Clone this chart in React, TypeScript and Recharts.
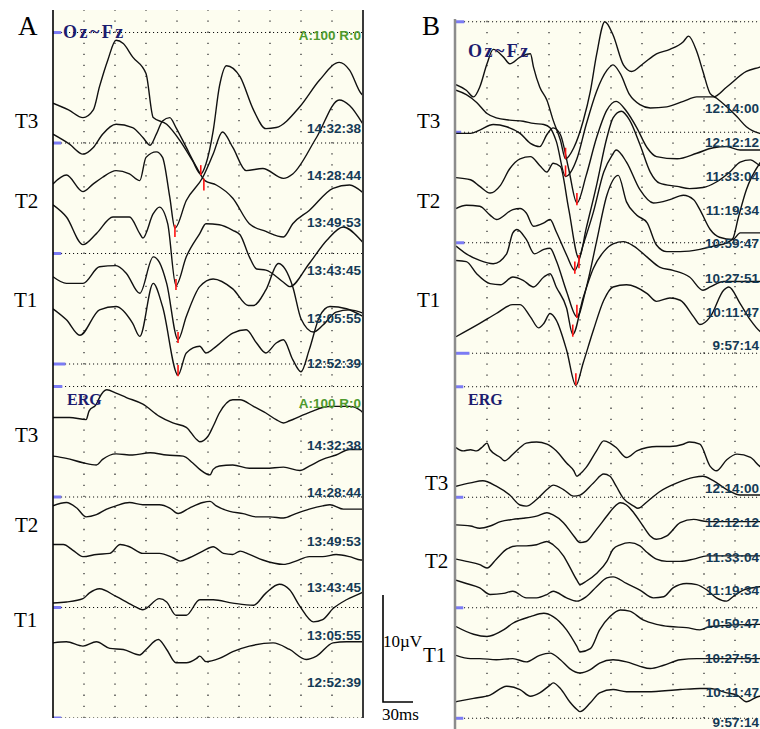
import React from "react";
import { LineChart, Line, XAxis, YAxis, ReferenceLine } from "recharts";

type Pt = [number, number]; // [time ms, amplitude µV]
type Mark = [number, number, number]; // [time ms, low µV, high µV] of red peak marker

// ---------------- Panel A : VEP (Oz~Fz) ----------------
const vepA_143238: Pt[] = [[0,23.6],[15,23.0],[29,22.3],[39,23.0],[45,25.1],[53,27.5],[61,29.3],[68,29.0],[77,27.8],[90,26.3],[97,22.3],[110,21.7],[123,20.2],[135,18.4],[143,17.2],[148,18.1],[155,21.1],[161,25.1],[168,27.0],[181,26.0],[194,23.0],[206,21.3],[216,21.4],[239,23.3],[258,25.7],[277,27.3],[287,26.6],[298,24.5],[300,24.3]];
const vepA_142844: Pt[] = [[0,20.8],[16,19.9],[29,19.0],[39,19.6],[48,20.8],[61,21.7],[77,21.4],[87,20.5],[94,19.8],[100,20.8],[106,22.0],[113,22.3],[119,21.4],[129,19.6],[139,17.8],[147,16.6],[158,16.2],[174,15.0],[190,12.7],[206,12.0],[223,11.5],[232,12.7],[248,13.9],[271,15.9],[287,16.2],[300,15.5]];
const vepA_134953: Pt[] = [[0,16.3],[13,17.1],[29,15.6],[39,16.3],[48,16.9],[61,17.5],[74,17.2],[84,16.6],[90,18.7],[100,19.2],[106,18.7],[113,15.1],[118,12.3],[129,14.8],[145,16.9],[155,19.0],[164,21.0],[174,19.6],[187,17.5],[203,17.7],[223,16.8],[232,17.2],[255,20.5],[277,23.9],[287,23.4],[300,21.7]];
const vepA_134345: Pt[] = [[0,14.4],[13,13.3],[29,10.8],[42,11.8],[58,13.3],[74,13.3],[84,11.8],[87,11.4],[97,13.6],[103,14.2],[111,12.7],[119,7.1],[129,9.7],[142,11.8],[148,12.7],[161,12.6],[174,12.1],[181,11.7],[190,9.7],[197,8.6],[206,8.5],[223,7.4],[229,7.0],[248,9.1],[265,11.2],[281,12.4],[298,11.2],[300,11.0]];
const vepA_130555: Pt[] = [[0,7.9],[13,7.3],[29,7.3],[45,8.8],[61,8.9],[71,8.2],[84,6.4],[97,9.7],[103,9.2],[110,7.3],[121,2.2],[129,4.3],[142,7.0],[155,7.7],[174,6.8],[189,5.3],[194,5.3],[206,6.7],[218,9.1],[232,7.0],[240,4.1],[252,2.9],[261,3.5],[274,4.7],[287,4.9],[300,4.6]];
const vepA_125239: Pt[] = [[0,5.0],[13,4.0],[26,2.6],[45,4.9],[61,5.2],[77,3.7],[84,2.5],[97,7.3],[106,5.2],[121,-1.0],[129,1.0],[142,1.6],[148,1.0],[158,1.6],[174,2.8],[187,3.1],[197,1.9],[206,1.0],[216,1.9],[223,2.2],[232,0.4],[240,-0.7],[248,1.3],[258,4.3],[268,5.2],[284,5.0],[300,4.3]];
const vepMarksA: Mark[] = [[143,17.1,18.0],[146,15.7,16.8],[118,11.5,12.6],[119,6.7,7.7],[121,1.9,2.9],[121,-1.1,-0.1]];
const timesA = ["14:32:38", "14:28:44", "13:49:53", "13:43:45", "13:05:55", "12:52:39"];

// ---------------- Panel A : ERG ----------------
const ergA_143238: Pt[] = [[0,27.2],[16,27.2],[32,27.0],[35,27.8],[42,28.4],[45,29.0],[52,29.7],[61,29.4],[71,29.0],[87,28.4],[103,27.3],[116,26.7],[129,26.3],[139,25.2],[142,25.0],[150,25.5],[155,26.4],[161,27.6],[174,28.8],[181,28.8],[194,28.2],[206,27.6],[216,27.0],[223,26.7],[229,26.9],[239,27.3],[252,27.8],[261,28.1],[271,28.2],[287,28.2],[298,27.8],[300,27.6]];
const ergA_142844: Pt[] = [[0,23.7],[13,23.5],[29,23.1],[42,22.9],[48,23.4],[61,23.9],[77,23.8],[94,24.0],[110,23.8],[126,23.7],[135,23.1],[142,22.5],[152,22.0],[155,22.5],[161,22.8],[174,22.9],[190,22.6],[206,22.6],[223,22.7],[239,22.4],[248,22.8],[261,23.4],[274,23.8],[287,24.3],[298,24.3],[300,24.4]];
const ergA_134953: Pt[] = [[0,19.2],[13,19.5],[23,19.0],[32,18.2],[42,18.4],[52,18.9],[61,19.2],[74,19.5],[87,19.3],[103,19.3],[113,19.0],[121,18.5],[132,19.0],[145,19.5],[152,19.6],[158,19.2],[171,18.7],[184,18.5],[197,18.2],[210,18.2],[223,18.1],[235,18.5],[248,18.9],[261,19.2],[268,19.3],[281,18.9],[298,18.9],[300,18.9]];
const ergA_134345: Pt[] = [[0,15.7],[10,15.7],[19,15.2],[29,14.6],[42,14.8],[55,14.9],[65,15.7],[74,15.5],[87,14.9],[103,14.9],[116,14.5],[123,14.2],[132,14.5],[145,15.1],[155,15.5],[165,14.9],[174,14.8],[181,15.1],[190,14.8],[203,14.3],[223,13.9],[235,14.2],[248,14.6],[261,14.6],[274,14.8],[287,14.6],[298,14.3],[300,14.3]];
const ergA_130555: Pt[] = [[0,10.4],[13,10.5],[29,10.8],[35,11.3],[45,11.7],[61,11.0],[77,10.2],[87,9.8],[103,10.8],[110,10.5],[119,9.3],[129,9.3],[142,10.7],[155,10.7],[174,10.4],[194,10.2],[206,11.3],[219,12.1],[229,11.6],[239,10.1],[252,8.7],[261,8.9],[271,9.9],[284,10.7],[298,11.3],[300,11.4]];
const ergA_125239: Pt[] = [[0,6.8],[13,6.9],[29,6.5],[42,6.9],[55,6.3],[68,6.2],[84,5.7],[90,6.2],[102,7.1],[110,6.2],[119,5.0],[129,5.0],[139,5.4],[142,5.6],[148,5.1],[161,5.4],[174,6.0],[190,6.5],[213,6.8],[229,6.2],[245,5.3],[255,5.6],[271,6.8],[284,6.9],[298,6.9],[300,6.9]];

// ---------------- Panel B : VEP (Oz~Fz) ----------------
const vepB_121400: Pt[] = [[0,24.3],[10,23.8],[17,23.2],[23,24.1],[30,26.2],[36,27.5],[46,26.8],[52,26.2],[62,26.8],[72,27.1],[75,25.9],[81,24.1],[88,22.9],[94,21.1],[101,19.3],[106,17.6],[114,18.6],[123,21.0],[130,23.7],[136,27.0],[144,30.0],[152,28.8],[162,26.1],[170,25.5],[181,26.2],[194,27.1],[207,27.5],[220,28.2],[225,28.7],[233,27.3],[239,25.5],[246,23.5],[252,23.1],[262,22.3],[272,21.4],[281,20.5],[294,19.9],[300,19.8]];
const vepB_121212: Pt[] = [[0,23.8],[10,23.4],[20,22.7],[30,21.7],[39,21.3],[52,21.1],[65,21.0],[75,20.8],[85,20.7],[91,20.4],[97,19.2],[106,16.0],[117,17.6],[126,20.7],[136,23.7],[146,25.6],[152,26.1],[159,25.3],[168,23.4],[178,22.5],[188,22.2],[204,22.3],[220,22.8],[233,23.2],[249,23.2],[262,24.1],[281,25.5],[294,25.9],[300,26.1]];
const vepB_113304: Pt[] = [[0,19.9],[14,19.9],[23,20.2],[36,20.7],[49,20.5],[62,19.9],[72,19.0],[81,18.7],[88,19.8],[94,20.4],[101,19.8],[109,16.7],[117,13.6],[126,16.1],[136,19.5],[146,22.0],[155,22.8],[165,21.9],[175,20.4],[185,18.6],[194,17.8],[214,17.6],[233,18.1],[249,18.6],[262,18.7],[275,18.4],[294,18.4],[300,18.4]];
const vepB_111934: Pt[] = [[0,15.9],[14,15.7],[23,15.1],[33,14.5],[43,15.2],[52,16.7],[62,17.6],[72,17.8],[81,17.0],[88,16.4],[94,17.2],[101,16.9],[109,13.1],[119,8.6],[126,11.3],[136,15.2],[146,19.5],[152,21.3],[160,21.9],[168,21.1],[178,18.9],[188,16.4],[197,15.4],[214,15.1],[226,14.9],[239,15.0],[252,15.5],[265,16.4],[275,17.3],[285,17.5],[294,17.0],[300,16.9]];
const vepB_105947: Pt[] = [[0,13.1],[10,13.4],[23,13.3],[33,12.5],[39,12.1],[55,13.0],[62,13.1],[68,12.7],[75,11.5],[85,11.8],[91,12.1],[97,11.0],[107,8.9],[115,7.5],[123,9.8],[133,12.8],[143,16.4],[151,17.9],[155,18.4],[165,17.3],[178,14.8],[191,13.6],[207,13.9],[220,14.3],[230,13.9],[236,13.0],[246,11.2],[255,10.5],[268,10.3],[275,10.9],[294,10.9],[300,10.9]];
const vepB_102751: Pt[] = [[0,9.7],[10,9.0],[23,8.4],[36,8.1],[49,9.0],[55,10.9],[59,11.2],[68,10.3],[76,9.0],[85,9.4],[91,9.5],[97,8.4],[107,5.6],[117,3.3],[126,5.9],[136,10.1],[146,14.3],[157,16.1],[165,13.7],[175,12.5],[185,11.8],[194,9.8],[204,9.2],[217,9.2],[236,9.4],[249,9.7],[262,10.0],[268,10.4],[273,12.2],[281,14.8],[294,17.2],[300,17.9]];
const vepB_101147: Pt[] = [[0,8.4],[10,8.3],[20,7.2],[33,6.3],[43,6.2],[55,6.9],[65,6.6],[75,6.0],[85,6.9],[91,7.2],[97,6.0],[107,4.1],[113,1.7],[123,5.0],[133,7.7],[143,9.2],[152,9.9],[162,10.1],[172,9.7],[185,8.7],[197,7.8],[210,7.5],[226,6.9],[239,5.7],[246,6.0],[259,6.5],[275,6.5],[294,6.5],[300,6.5]];
const vepB_095714: Pt[] = [[0,1.5],[23,2.7],[39,3.6],[55,4.4],[62,4.4],[72,3.3],[80,2.3],[85,2.7],[91,3.6],[97,3.0],[107,0.3],[116,-2.9],[123,-0.9],[133,2.1],[143,4.8],[152,6.0],[165,6.2],[185,5.4],[194,4.7],[207,5.0],[217,4.8],[230,3.3],[236,2.6],[246,3.3],[259,5.7],[264,6.0],[275,4.5],[285,3.0],[294,2.0],[300,1.7]];
const vepMarksB: Mark[] = [[106,17.6,18.6],[106,16.0,17.0],[117,13.4,14.5],[119,7.7,8.9],[115,7.2,8.3],[117,3.2,4.4],[113,1.5,2.6],[116,-2.9,-1.8]];
const timesB = ["12:14:00", "12:12:12", "11:33:04", "11:19:34", "10:59:47", "10:27:51", "10:11:47", "9:57:14"];

// ---------------- Panel B : ERG ----------------
const ergB_121400: Pt[] = [[0,24.5],[7,24.2],[14,24.3],[20,24.2],[26,24.6],[30,24.9],[33,24.3],[43,23.6],[47,23.3],[55,23.9],[62,24.5],[68,24.9],[78,25.0],[88,24.8],[97,24.2],[107,23.1],[114,22.4],[117,21.9],[120,22.1],[126,22.7],[136,24.2],[143,25.1],[149,24.9],[155,24.5],[165,23.6],[175,24.2],[185,24.5],[194,24.6],[207,24.6],[220,24.8],[226,25.0],[236,24.8],[246,22.8],[252,22.4],[262,23.4],[272,23.9],[285,23.6],[294,22.8],[300,22.5]];
const ergB_121212: Pt[] = [[0,21.0],[14,21.3],[26,21.5],[39,21.0],[52,20.2],[62,19.3],[68,19.2],[78,19.8],[88,20.7],[94,21.1],[104,20.7],[114,20.1],[120,20.2],[133,21.3],[143,22.1],[149,21.9],[155,21.0],[162,19.9],[172,19.2],[176,19.0],[185,19.6],[197,20.5],[214,21.3],[230,21.8],[239,21.9],[249,21.5],[262,20.7],[275,20.2],[294,20.2],[300,20.2]];
const ergB_113304: Pt[] = [[0,17.5],[14,17.4],[23,17.2],[33,17.4],[43,17.8],[55,18.0],[65,18.1],[78,18.3],[88,18.6],[94,18.4],[104,17.7],[114,16.5],[120,15.9],[126,16.0],[136,17.1],[146,18.3],[152,19.0],[159,19.5],[165,19.3],[172,18.6],[181,17.4],[188,16.5],[194,16.2],[204,16.5],[217,17.7],[230,18.0],[243,17.8],[294,17.8],[300,17.8]];
const ergB_111934: Pt[] = [[0,14.4],[10,14.2],[23,13.9],[30,13.6],[39,14.4],[49,15.3],[59,15.6],[68,15.6],[78,15.7],[88,16.0],[94,15.7],[104,14.7],[110,13.7],[117,12.5],[120,12.1],[126,12.4],[136,13.1],[146,14.2],[152,15.3],[159,15.7],[168,15.9],[178,15.6],[185,15.0],[194,14.4],[204,14.2],[217,14.2],[230,14.4],[243,14.7],[294,14.7],[300,14.7]];
const ergB_105947: Pt[] = [[0,12.5],[10,12.2],[23,11.8],[33,11.2],[46,11.3],[55,11.5],[68,10.9],[78,10.9],[88,11.2],[94,11.5],[107,10.9],[117,10.6],[126,11.0],[136,11.9],[146,12.7],[152,12.8],[165,12.2],[178,11.6],[191,10.9],[201,11.0],[210,11.8],[223,12.2],[233,12.1],[243,11.6],[252,10.9],[262,10.6],[268,11.0],[278,11.6],[294,11.9],[300,12.0]];
const ergB_102751: Pt[] = [[0,8.3],[17,7.6],[30,7.4],[46,8.0],[55,8.6],[72,9.2],[85,9.5],[94,9.2],[107,8.0],[117,6.5],[120,6.0],[130,6.3],[139,8.0],[149,9.2],[159,9.8],[168,9.7],[181,8.9],[194,8.5],[207,8.3],[223,8.2],[236,8.0],[246,8.3],[294,8.5],[300,8.5]];
const ergB_101147: Pt[] = [[0,5.7],[14,5.4],[23,5.4],[39,5.3],[55,5.4],[68,5.1],[81,5.7],[91,5.9],[101,5.3],[110,4.5],[120,4.1],[130,4.4],[139,5.0],[152,5.3],[165,5.1],[178,4.7],[188,4.5],[201,4.8],[217,5.3],[233,5.4],[246,5.4],[294,5.4],[300,5.4]];
const ergB_095714: Pt[] = [[0,1.5],[17,1.8],[33,2.1],[49,2.9],[62,2.6],[72,2.0],[81,2.3],[91,3.0],[94,3.2],[101,2.7],[110,1.5],[117,0.8],[120,0.6],[130,1.4],[139,2.3],[152,2.6],[165,2.4],[185,2.4],[217,2.6],[236,2.7],[246,2.7],[262,2.3],[272,2.1],[281,1.5],[294,2.0],[300,2.0]];

// grid: 30 ms per division, 10 µV between dotted baselines
const timeDivisions = [30, 60, 90, 120, 150, 180, 210, 240, 270, 300];
const baselineLevels = [0, 10, 20, 30];

const CREAM = "#fdfdf0";
const TRACE = "#111";
const TAB = "#7b7bf4";

const toRows = (pts: Pt[]) => pts.map(([t, v]) => ({ t, v }));

interface PanelProps {
  left: number;
  top: number;
  width: number;
  height: number;
  vepDomain: [number, number];
  ergDomain: [number, number];
  vep: Pt[][];
  erg: Pt[][];
  marks: Mark[];
  vepTabs: [number, number][];
  ergTabs: [number, number][];
}

function Panel(p: PanelProps) {
  return (
    <div style={{ position: "absolute", left: p.left, top: p.top, width: p.width, height: p.height, background: CREAM }}>
      <LineChart width={p.width} height={p.height} margin={{ top: 0, right: 0, bottom: 0, left: 0 }}>
        <XAxis type="number" dataKey="t" domain={[0, 300]} hide allowDataOverflow />
        <YAxis yAxisId="vep" type="number" domain={p.vepDomain} hide allowDataOverflow />
        <YAxis yAxisId="erg" type="number" domain={p.ergDomain} hide allowDataOverflow />
        {timeDivisions.map((t) => (
          <ReferenceLine
            key={"vg" + t}
            yAxisId="erg"
            ifOverflow="visible"
            segment={[{ x: t, y: 0 }, { x: t, y: p.ergDomain[1] }]}
            stroke="#333"
            strokeWidth={1.3}
            strokeDasharray="1.3 9.75"
          />
        ))}
        {baselineLevels.map((l) => (
          <ReferenceLine key={"hv" + l} yAxisId="vep" y={l} stroke="#111" strokeWidth={1.1} strokeDasharray="1.1 2.9" ifOverflow="visible" />
        ))}
        {baselineLevels.map((l) => (
          <ReferenceLine key={"he" + l} yAxisId="erg" y={l} stroke="#111" strokeWidth={1.1} strokeDasharray="1.1 2.9" ifOverflow="visible" />
        ))}
        {p.vepTabs.map(([l, w]) => (
          <ReferenceLine key={"tv" + l} yAxisId="vep" ifOverflow="visible" segment={[{ x: 0, y: l }, { x: w, y: l }]} stroke={TAB} strokeWidth={3} />
        ))}
        {p.ergTabs.map(([l, w]) => (
          <ReferenceLine key={"te" + l} yAxisId="erg" ifOverflow="visible" segment={[{ x: 0, y: l }, { x: w, y: l }]} stroke={TAB} strokeWidth={3} />
        ))}
        {p.vep.map((tr, i) => (
          <Line key={"v" + i} yAxisId="vep" data={toRows(tr)} dataKey="v" type="monotone" dot={false} activeDot={false}
            stroke={TRACE} strokeWidth={1.4} isAnimationActive={false} />
        ))}
        {p.erg.map((tr, i) => (
          <Line key={"e" + i} yAxisId="erg" data={toRows(tr)} dataKey="v" type="monotone" dot={false} activeDot={false}
            stroke={TRACE} strokeWidth={1.4} isAnimationActive={false} />
        ))}
        {p.marks.map(([t, lo, hi], i) => (
          <ReferenceLine key={"m" + i} yAxisId="vep" ifOverflow="visible" segment={[{ x: t, y: lo }, { x: t, y: hi }]} stroke="#ff1010" strokeWidth={1.6} />
        ))}
      </LineChart>
    </div>
  );
}

const serif = "'Liberation Serif', 'Times New Roman', serif";
const sans = "'Liberation Sans', Arial, sans-serif";
const STAMP = "#143a56";

const stampPosA_vep = [133, 180, 227, 275, 323, 368];
const stampPosA_erg = [450, 497, 546, 592, 640, 687];
const stampPosB_vep = [113, 147, 181, 215, 248, 283, 317, 350];
const stampPosB_erg = [493, 527, 562, 595, 628, 663, 697, 727];

export default function App() {
  return (
    <div style={{ position: "absolute", left: 0, top: 0, width: 760, height: 729, overflow: "hidden", background: "#fff" }}>
      <Panel
        left={53}
        top={10}
        width={310}
        height={708}
        vepDomain={[-32.04, 32.04]}
        ergDomain={[0, 64.07]}
        vep={[vepA_143238, vepA_142844, vepA_134953, vepA_134345, vepA_130555, vepA_125239]}
        erg={[ergA_143238, ergA_142844, ergA_134953, ergA_134345, ergA_130555, ergA_125239]}
        marks={vepMarksA}
        vepTabs={[[30, 8], [20, 8], [10, 8], [0, 12]]}
        ergTabs={[[30, 9], [20, 8], [10, 8], [0, 8]]}
      />
      <Panel
        left={456}
        top={20}
        width={310}
        height={709}
        vepDomain={[-34.0, 30.16]}
        ergDomain={[-0.97, 63.19]}
        vep={[vepB_121400, vepB_121212, vepB_113304, vepB_111934, vepB_105947, vepB_102751, vepB_101147, vepB_095714]}
        erg={[ergB_121400, ergB_121212, ergB_113304, ergB_111934, ergB_105947, ergB_102751, ergB_101147, ergB_095714]}
        marks={vepMarksB}
        vepTabs={[[30, 8], [20, 5], [10, 8], [0, 13]]}
        ergTabs={[[30, 7], [20, 7], [10, 7], [0, 7]]}
      />
      <svg width={760} height={729} style={{ position: "absolute", left: 0, top: 0, pointerEvents: "none" }}>
        {/* frames */}
        <line x1={53} y1={10} x2={53} y2={718} stroke="#000" strokeWidth={1.6} />
        <line x1={363} y1={10} x2={363} y2={718} stroke="#3a3a3a" strokeWidth={2} />
        <line x1={455} y1={19} x2={455} y2={729} stroke="#8c8c8c" strokeWidth={2.5} />

        {/* panel letters */}
        <text x={18} y={35} fontFamily={serif} fontSize={27}>A</text>
        <text x={422} y={35} fontFamily={serif} fontSize={27}>B</text>

        {/* group labels, panel A */}
        <text x={15} y={128} fontFamily={serif} fontSize={21}>T3</text>
        <text x={15} y={208} fontFamily={serif} fontSize={21}>T2</text>
        <text x={14} y={307} fontFamily={serif} fontSize={21}>T1</text>
        <text x={15} y={442} fontFamily={serif} fontSize={21}>T3</text>
        <text x={15} y={532} fontFamily={serif} fontSize={21}>T2</text>
        <text x={14} y={627} fontFamily={serif} fontSize={21}>T1</text>

        {/* group labels, panel B */}
        <text x={417} y={128} fontFamily={serif} fontSize={21}>T3</text>
        <text x={417} y={208} fontFamily={serif} fontSize={21}>T2</text>
        <text x={417} y={307} fontFamily={serif} fontSize={21}>T1</text>
        <text x={425} y={490} fontFamily={serif} fontSize={21}>T3</text>
        <text x={425} y={568} fontFamily={serif} fontSize={21}>T2</text>
        <text x={423} y={662} fontFamily={serif} fontSize={21}>T1</text>

        {/* channel names */}
        <text x={63} y={38} fontFamily={serif} fontWeight="bold" fontSize={18} letterSpacing={2.5} fill="#1c1c6e">Oz~Fz</text>
        <text x={468} y={57} fontFamily={serif} fontWeight="bold" fontSize={18} letterSpacing={2.5} fill="#1c1c6e">Oz~Fz</text>
        <text x={67} y={405} fontFamily={serif} fontWeight="bold" fontSize={16} fill="#1c1c6e">ERG</text>
        <text x={468} y={405} fontFamily={serif} fontWeight="bold" fontSize={16} fill="#1c1c6e">ERG</text>

        {/* amplification / rejection */}
        <text x={361} y={40} textAnchor="end" fontFamily={sans} fontWeight="bold" fontSize={13.5} fill="#4f9a2e">A:100 R:0</text>
        <text x={361} y={408} textAnchor="end" fontFamily={sans} fontWeight="bold" fontSize={13.5} fill="#4f9a2e">A:100 R:0</text>

        {/* timestamps */}
        {timesA.map((s, i) => (
          <text key={"sav" + i} x={361} y={stampPosA_vep[i]} textAnchor="end" fontFamily={sans} fontWeight="bold" fontSize={13.5} fill={STAMP}>{s}</text>
        ))}
        {timesA.map((s, i) => (
          <text key={"sae" + i} x={361} y={stampPosA_erg[i]} textAnchor="end" fontFamily={sans} fontWeight="bold" fontSize={13.5} fill={STAMP}>{s}</text>
        ))}
        {timesB.map((s, i) => (
          <text key={"sbv" + i} x={759} y={stampPosB_vep[i]} textAnchor="end" fontFamily={sans} fontWeight="bold" fontSize={13.5} fill={STAMP}>{s}</text>
        ))}
        {timesB.map((s, i) => (
          <text key={"sbe" + i} x={759} y={stampPosB_erg[i]} textAnchor="end" fontFamily={sans} fontWeight="bold" fontSize={13.5} fill={STAMP}>{s}</text>
        ))}

        {/* calibration bar */}
        <polyline points="383,595 383,702 413,702" fill="none" stroke="#000" strokeWidth={1.6} />
        <text x={383} y={647} fontFamily={serif} fontSize={17}>10µV</text>
        <text x={382} y={720} fontFamily={serif} fontSize={17}>30ms</text>
      </svg>
    </div>
  );
}
